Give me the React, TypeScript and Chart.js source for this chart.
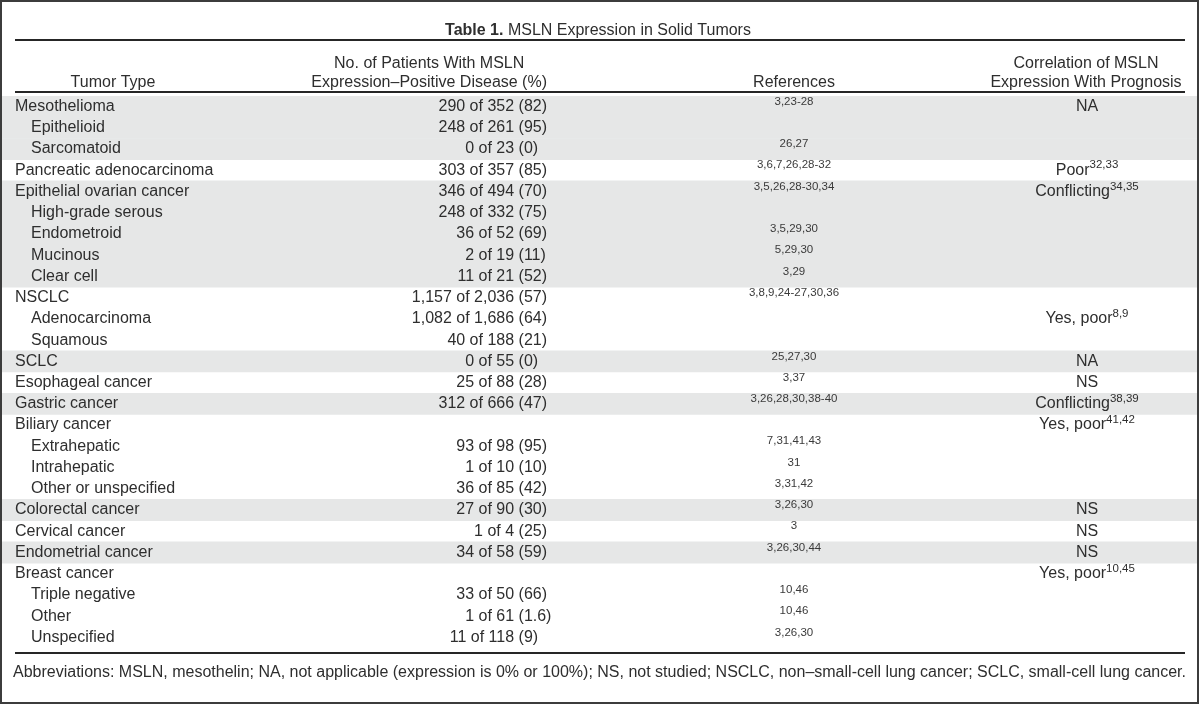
import React, { useEffect, useRef } from 'react';
import { Chart, registerables } from 'chart.js';

Chart.register(...registerables);

// ---------- DATA ----------
const titleBold = 'Table 1.';
const titleText = 'MSLN Expression in Solid Tumors';
const headerTumor = ['', 'Tumor Type'];
const headerPatients = ['No. of Patients With MSLN', 'Expression–Positive Disease (%)'];
const headerRefs = ['', 'References'];
const headerPrognosis = ['Correlation of MSLN', 'Expression With Prognosis'];
const footnote =
  'Abbreviations: MSLN, mesothelin; NA, not applicable (expression is 0% or 100%); NS, not studied; NSCLC, non–small-cell lung cancer; SCLC, small-cell lung cancer.';

const tumorTypes = [
  'Mesothelioma', 'Epithelioid', 'Sarcomatoid', 'Pancreatic adenocarcinoma',
  'Epithelial ovarian cancer', 'High-grade serous', 'Endometroid', 'Mucinous', 'Clear cell',
  'NSCLC', 'Adenocarcinoma', 'Squamous', 'SCLC', 'Esophageal cancer', 'Gastric cancer',
  'Biliary cancer', 'Extrahepatic', 'Intrahepatic', 'Other or unspecified',
  'Colorectal cancer', 'Cervical cancer', 'Endometrial cancer',
  'Breast cancer', 'Triple negative', 'Other', 'Unspecified',
];
const subtypeLevel = [0, 1, 1, 0, 0, 1, 1, 1, 1, 0, 1, 1, 0, 0, 0, 0, 1, 1, 1, 0, 0, 0, 0, 1, 1, 1];
const positivePatients = [290, 248, 0, 303, 346, 248, 36, 2, 11, 1157, 1082, 40, 0, 25, 312, null, 93, 1, 36, 27, 1, 34, null, 33, 1, 11];
const totalPatients = [352, 261, 23, 357, 494, 332, 52, 19, 21, 2036, 1686, 188, 55, 88, 666, null, 98, 10, 85, 90, 4, 58, null, 50, 61, 118];
const positivePercent = [82, 95, 0, 85, 70, 75, 69, 11, 52, 57, 64, 21, 0, 28, 47, null, 95, 10, 42, 30, 25, 59, null, 66, 1.6, 9];
const references = [
  '3,23-28', '', '26,27', '3,6,7,26,28-32', '3,5,26,28-30,34', '', '3,5,29,30', '5,29,30', '3,29',
  '3,8,9,24-27,30,36', '', '', '25,27,30', '3,37', '3,26,28,30,38-40', '', '7,31,41,43', '31', '3,31,42',
  '3,26,30', '3', '3,26,30,44', '', '10,46', '10,46', '3,26,30',
];
const prognosis = [
  'NA', '', '', 'Poor', 'Conflicting', '', '', '', '', '', 'Yes, poor', '', 'NA', 'NS', 'Conflicting',
  'Yes, poor', '', '', '', 'NS', 'NS', 'NS', 'Yes, poor', '', '', '',
];
const prognosisRefs = [
  '', '', '', '32,33', '34,35', '', '', '', '', '', '8,9', '', '', '', '38,39',
  '41,42', '', '', '', '', '', '', '10,45', '', '', '',
];
const shadedRows = [1, 1, 1, 0, 1, 1, 1, 1, 1, 0, 0, 0, 1, 0, 1, 0, 0, 0, 0, 1, 0, 1, 0, 0, 0, 0];

// ---------- STYLE ----------
const FONT = '"Liberation Sans", Arial, sans-serif';
const TEXT = '#2e2e2e';
const BAND = '#e6e7e7';
const RULE = '#262626';
const MAIN = `16px ${FONT}`;
const BOLD = `bold 16px ${FONT}`;
const SUP = `11.5px ${FONT}`;

const fmt = (n: number) => n.toLocaleString('en-US');

const tablePlugin = {
  id: 'tableText',
  beforeDraw(chart: any) {
    const { ctx, width, height } = chart;
    ctx.save();
    ctx.fillStyle = '#ffffff';
    ctx.fillRect(0, 0, width, height);
    ctx.restore();
  },
  afterDraw(chart: any) {
    const ctx: CanvasRenderingContext2D = chart.ctx;
    const yScale = chart.scales.y;
    const W = chart.width;
    ctx.save();

    // outer frame
    ctx.strokeStyle = '#3c3c3c';
    ctx.lineWidth = 2;
    ctx.strokeRect(1, 1, W - 3, chart.height - 3);

    // title
    ctx.fillStyle = TEXT;
    ctx.textBaseline = 'middle';
    ctx.font = BOLD;
    const wb = ctx.measureText(titleBold + ' ').width;
    ctx.font = MAIN;
    const wr = ctx.measureText(titleText).width;
    const tx = 598 - (wb + wr) / 2;
    ctx.textAlign = 'left';
    ctx.font = BOLD;
    ctx.fillText(titleBold + ' ', tx, 31);
    ctx.font = MAIN;
    ctx.fillText(titleText, tx + wb, 31);

    // rules
    ctx.fillStyle = RULE;
    ctx.fillRect(15, 39, 1170, 2);
    ctx.fillRect(15, 91, 1170, 2);
    ctx.fillRect(15, 652, 1170, 2);

    // header
    ctx.fillStyle = TEXT;
    ctx.font = MAIN;
    ctx.textAlign = 'center';
    const hy = [64, 83];
    const numRight = 547;
    const patW = ctx.measureText(headerPatients[1]).width;
    const patCenter = numRight - patW / 2;
    for (let k = 0; k < 2; k++) {
      if (headerTumor[k]) ctx.fillText(headerTumor[k], 113, hy[k]);
      if (headerPatients[k]) ctx.fillText(headerPatients[k], patCenter, hy[k]);
      if (headerRefs[k]) ctx.fillText(headerRefs[k], 794, hy[k]);
      if (headerPrognosis[k]) ctx.fillText(headerPrognosis[k], 1086, hy[k]);
    }

    // body
    const pctW = ctx.measureText(' (95)').width;
    const R = numRight - pctW;
    for (let i = 0; i < tumorTypes.length; i++) {
      const yc = yScale.getPixelForValue(i);
      ctx.font = MAIN;
      ctx.fillStyle = TEXT;
      ctx.textAlign = 'left';
      ctx.fillText(tumorTypes[i], subtypeLevel[i] ? 31 : 15, yc);

      const p = positivePatients[i];
      const t = totalPatients[i];
      if (p !== null && t !== null) {
        ctx.textAlign = 'right';
        ctx.fillText(`${fmt(p)} of ${fmt(t)}`, R, yc);
        ctx.textAlign = 'left';
        ctx.fillText(` (${positivePercent[i]})`, R, yc);
      }

      if (references[i]) {
        ctx.font = SUP;
        ctx.fillStyle = '#3a3a3a';
        ctx.textAlign = 'center';
        ctx.fillText(references[i], 794, yc - 5);
      }

      if (prognosis[i]) {
        ctx.font = MAIN;
        ctx.fillStyle = TEXT;
        const w1 = ctx.measureText(prognosis[i]).width;
        ctx.font = SUP;
        const w2 = prognosisRefs[i] ? ctx.measureText(prognosisRefs[i]).width : 0;
        const sx = 1087 - (w1 + w2) / 2;
        ctx.textAlign = 'left';
        ctx.font = MAIN;
        ctx.fillText(prognosis[i], sx, yc);
        if (prognosisRefs[i]) {
          ctx.font = SUP;
          ctx.fillText(prognosisRefs[i], sx + w1, yc - 5);
        }
      }
    }

    // footnote
    ctx.font = MAIN;
    ctx.fillStyle = TEXT;
    ctx.textAlign = 'left';
    ctx.fillText(footnote, 13, 673);

    ctx.restore();
  },
};

export default function App() {
  const canvasRef = useRef<HTMLCanvasElement | null>(null);

  useEffect(() => {
    const canvas = canvasRef.current;
    if (!canvas) return;
    const chart = new Chart(canvas, {
      type: 'bar',
      data: {
        labels: tumorTypes,
        datasets: [
          {
            label: 'row shading',
            data: shadedRows.map((s) => (s ? [0, 1] : null)) as any,
            backgroundColor: BAND,
            borderWidth: 0,
            barPercentage: 1,
            categoryPercentage: 1,
          },
        ],
      },
      options: {
        indexAxis: 'y',
        responsive: false,
        animation: false,
        devicePixelRatio: 1,
        layout: { padding: { top: 96, bottom: 57, left: 2, right: 3 } },
        plugins: {
          legend: { display: false },
          tooltip: { enabled: false },
        },
        scales: {
          x: { type: 'linear', min: 0, max: 1, display: false },
          y: { type: 'category', display: false, offset: true },
        },
      },
      plugins: [tablePlugin],
    });
    return () => chart.destroy();
  }, []);

  return (
    <div style={{ position: 'absolute', left: 0, top: 0, width: 1200, height: 705 }}>
      <canvas ref={canvasRef} width={1200} height={705} style={{ display: 'block' }} />
    </div>
  );
}
